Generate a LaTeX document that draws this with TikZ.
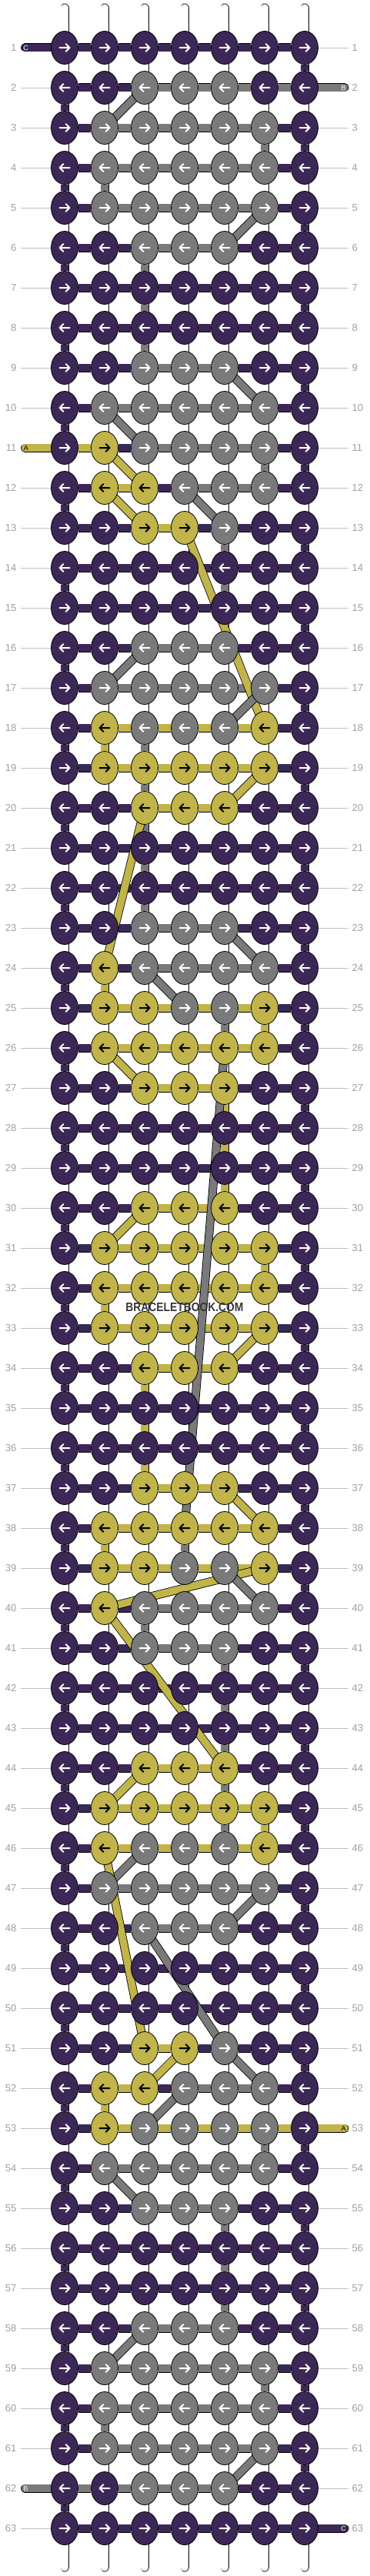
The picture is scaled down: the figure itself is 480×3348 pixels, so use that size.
\documentclass[tikz,border=0pt]{standalone}
\usepackage{fontspec}
\setmainfont{Liberation Sans}
\usetikzlibrary{shapes.geometric}

\pgfdeclarelayer{back}
\pgfdeclarelayer{mid}
\pgfsetlayers{back,mid,main}

\definecolor{P}{RGB}{59,40,86}
\definecolor{G}{RGB}{122,122,122}
\definecolor{Y}{RGB}{193,180,74}
\colorlet{aP}{white}
\colorlet{aG}{white}
\colorlet{aY}{black}
\definecolor{numgray}{RGB}{160,160,160}
\definecolor{linegray}{RGB}{192,192,192}
\definecolor{wmgray}{RGB}{55,55,55}

\tikzset{
  knot/.style={ellipse, draw=black, fill=#1, line width=0.8pt,
    minimum width=35pt, minimum height=43pt, inner sep=0pt},
  arrowed/.style 2 args={path picture={
    \draw[draw=#2, line width=2pt, line cap=round, line join=round]
      (path picture bounding box.center) ++({-6.5*(#1)},0) -- ++({13*(#1)},0)
      ++({-5*(#1)},-5) -- ++({5*(#1)},5) -- ++({-5*(#1)},5);}},
  bar/.style={draw=black, line width=0.8pt, double=#1, double distance=9.4pt},
  wstring/.style={draw=black, line width=0.8pt, double=white,
    double distance=9.4pt, line cap=round},
  numline/.style={draw=linegray, line width=0.8pt},
  num/.style={font=\fontsize{13}{13}\selectfont, text=numgray, inner sep=0pt},
  endlab/.style={font=\fontsize{9}{9}\selectfont, inner sep=0pt}
}

% one row of knots: row number, then seven colours
\newcommand\knots[8]{%
  \ifodd#1\relax\def\sgn{1}\else\def\sgn{-1}\fi
  \foreach \kk/\col in {1/#2,2/#3,3/#4,4/#5,5/#6,6/#7,7/#8}{%
    \node[knot=\col, arrowed={\sgn}{a\col}] (k\kk-#1)
      at ({84+52*(\kk-1)},{62+52*(#1-1)}) {};
  }%
}
% the six bars between the knots of a row
\newcommand\hbars[7]{%
  \begin{pgfonlayer}{back}
  \foreach \kk/\col in {1/#2,2/#3,3/#4,4/#5,5/#6,6/#7}{%
    \pgfmathtruncatemacro\nx{\kk+1}
    \draw[bar=\col] (k\kk-#1) -- (k\nx-#1);
  }%
  \end{pgfonlayer}%
}
\newcommand\brow[3]{%
  \knots{#1}#2%
  \hbars{#1}#3%
  \coordinate (ll#1) at (27,{62+52*(#1-1)});
  \coordinate (rl#1) at (453,{62+52*(#1-1)});
  \begin{pgfonlayer}{back}
  \draw[numline] (ll#1) -- (k1-#1);
  \draw[numline] (k7-#1) -- (rl#1);
  \end{pgfonlayer}
  \node[num, anchor=east] (nl#1) at (21.5,{62+52*(#1-1)}) {#1};
  \node[num, anchor=west] (nr#1) at (457.5,{62+52*(#1-1)}) {#1};
}

\begin{document}
\begin{tikzpicture}[x=1pt, y=-1pt]
\useasboundingbox (0,0) rectangle (480,3348);
\begin{pgfonlayer}{back}
\fill[white] (0,0) rectangle (480,3348);
\foreach \kk in {1,...,7}{
  \coordinate (t\kk) at ({84+52*(\kk-1)},10);
  \coordinate (b\kk) at ({84+52*(\kk-1)},3337);
  \draw[wstring] (t\kk) -- (b\kk);
}
\end{pgfonlayer}

\brow{1}{PPPPPPP}{PPPPPP}
\brow{2}{PPGGGPP}{PPGGGG}
\brow{3}{PGGGGGP}{PGGGGP}
\brow{4}{PGGGGGP}{PGGGGP}
\brow{5}{PGGGGGP}{PGGGGP}
\brow{6}{PPGGGPP}{PPGGPP}
\brow{7}{PPPPPPP}{PPPPPP}
\brow{8}{PPPPPPP}{PPPPPP}
\brow{9}{PPGGGPP}{PPGGPP}
\brow{10}{PGGGGGP}{PGGGGP}
\brow{11}{PYGGGGP}{YPGGGP}
\brow{12}{PYYGGGP}{PYPGGP}
\brow{13}{PPYYGPP}{PPYPPP}
\brow{14}{PPPPPPP}{PPPPPP}
\brow{15}{PPPPPPP}{PPPPPP}
\brow{16}{PPGGGPP}{PPGGPP}
\brow{17}{PGGGGGP}{PGGGGP}
\brow{18}{PYGGGYP}{PYYYYP}
\brow{19}{PYYYYYP}{PYYYYP}
\brow{20}{PPYYYPP}{PPYYPP}
\brow{21}{PPPPPPP}{PPPPPP}
\brow{22}{PPPPPPP}{PPPPPP}
\brow{23}{PPGGGPP}{PPGGPP}
\brow{24}{PYGGGGP}{PPGGGP}
\brow{25}{PYYGGYP}{PYYYYP}
\brow{26}{PYYYYYP}{PYYYYP}
\brow{27}{PPYYYPP}{PPYYPP}
\brow{28}{PPPPPPP}{PPPPPP}
\brow{29}{PPPPPPP}{PPPPPP}
\brow{30}{PPYYYPP}{PPYYPP}
\brow{31}{PYYYYYP}{PYYYYP}
\brow{32}{PYYYYYP}{PYYYYP}
\brow{33}{PYYYYYP}{PYYYYP}
\brow{34}{PPYYYPP}{PPYYPP}
\brow{35}{PPPPPPP}{PPPPPP}
\brow{36}{PPPPPPP}{PPPPPP}
\brow{37}{PPYYYPP}{PPYYPP}
\brow{38}{PYYYYYP}{PYYYYP}
\brow{39}{PYYGGYP}{PYYYYP}
\brow{40}{PYGGGGP}{PPGGGP}
\brow{41}{PPGGGPP}{PPGGPP}
\brow{42}{PPPPPPP}{PPPPPP}
\brow{43}{PPPPPPP}{PPPPPP}
\brow{44}{PPYYYPP}{PPYYPP}
\brow{45}{PYYYYYP}{PYYYYP}
\brow{46}{PYGGGYP}{PYYYYP}
\brow{47}{PGGGGGP}{PGGGGP}
\brow{48}{PPGGGPP}{PPGGPP}
\brow{49}{PPPPPPP}{PPPPPP}
\brow{50}{PPPPPPP}{PPPPPP}
\brow{51}{PPYYGPP}{PPYPPP}
\brow{52}{PYYGGGP}{PYPGGP}
\brow{53}{PYGGGGP}{PYYYYY}
\brow{54}{PGGGGGP}{PGGGGP}
\brow{55}{PPGGGPP}{PPGGPP}
\brow{56}{PPPPPPP}{PPPPPP}
\brow{57}{PPPPPPP}{PPPPPP}
\brow{58}{PPGGGPP}{PPGGPP}
\brow{59}{PGGGGGP}{PGGGGP}
\brow{60}{PGGGGGP}{PGGGGP}
\brow{61}{PGGGGGP}{PGGGGP}
\brow{62}{PPGGGPP}{GGGGPP}
\brow{63}{PPPPPPP}{PPPPPP}

\begin{pgfonlayer}{back}
\foreach \rw in {1,...,62}{
  \pgfmathtruncatemacro\nx{\rw+1}
  \ifodd\rw
    \draw[bar=P] (k7-\rw) -- (k7-\nx);
  \else
    \draw[bar=P] (k1-\rw) -- (k1-\nx);
  \fi
}
\foreach \kk/\rw/\col in {6/3/G, 2/4/G, 3/6/G, 3/7/G, 3/8/G, 6/11/G, 5/13/G,
    5/14/G, 2/18/Y, 3/18/G, 3/19/G, 3/20/G, 3/21/G, 3/22/G, 2/24/Y, 5/25/G,
    6/25/Y, 5/27/Y, 5/28/Y, 5/29/Y, 6/31/Y, 2/32/Y, 3/34/Y, 3/35/Y, 3/36/Y,
    2/38/Y, 4/38/G, 3/40/G, 5/41/G, 5/42/G, 5/43/G, 5/44/G, 5/45/G, 6/45/Y,
    2/52/Y, 6/53/G, 5/55/G, 5/56/G, 5/57/G, 6/59/G, 2/60/G}{
  \pgfmathtruncatemacro\nx{\rw+1}
  \draw[bar=\col] (k\kk-\rw) -- (k\kk-\nx);
}
% loose ends
\coordinate (eC1) at (32.5,62);
\coordinate (eB2) at (448,114);
\coordinate (eA11) at (32.5,582);
\coordinate (eA53) at (448,2766);
\coordinate (eB62) at (32.5,3234);
\coordinate (eC63) at (448,3286);
\draw[bar=P, line cap=round] (eC1) -- (k1-1);
\draw[bar=G, line cap=round] (k7-2) -- (eB2);
\draw[bar=Y, line cap=round] (eA11) -- (k1-11);
\draw[bar=Y, line cap=round] (k7-53) -- (eA53);
\draw[bar=G, line cap=round] (eB62) -- (k1-62);
\draw[bar=P, line cap=round] (k7-63) -- (eC63);
\end{pgfonlayer}
\node[endlab, text=white] (tC1) at (33.5,62) {C};
\node[endlab, text=white] (tB2) at (446.5,114) {B};
\node[endlab, text=black] (tA11) at (34,582) {A};
\node[endlab, text=black] (tA53) at (446.5,2766) {A};
\node[endlab, text=white] (tB62) at (33.5,3234) {B};
\node[endlab, text=white] (tC63) at (446.5,3286) {C};

\begin{pgfonlayer}{mid}
\foreach \p/\q/\col in {3-2/2-3/G, 6-5/5-6/G, 5-9/6-10/G, 2-10/3-11/G,
    2-11/3-12/Y, 2-12/3-13/Y, 4-12/5-13/G, 4-13/6-18/Y, 3-16/2-17/G,
    6-17/5-18/G, 6-19/5-20/Y, 3-20/2-24/Y, 5-23/6-24/G, 3-24/4-25/G,
    2-26/3-27/Y, 5-26/4-38/G, 3-30/2-31/Y, 6-33/5-34/Y, 5-37/6-38/Y,
    6-39/2-40/Y, 5-39/6-40/G, 2-40/5-44/Y, 3-44/2-45/Y, 3-46/2-47/G,
    2-46/3-51/Y, 6-47/5-48/G, 3-48/5-51/G, 4-51/3-52/Y, 5-51/6-52/G,
    4-52/3-53/G, 2-54/3-55/G, 3-58/2-59/G, 6-61/5-62/G}{
  \draw[bar=\col] (k\p.center) -- (k\q.center);
}
\end{pgfonlayer}

\node[font=\bfseries\fontsize{16}{16}\selectfont, text=wmgray, xscale=0.865]
  (wm) at (240,1699) {BRACELETBOOK.COM};
\end{tikzpicture}
\end{document}
